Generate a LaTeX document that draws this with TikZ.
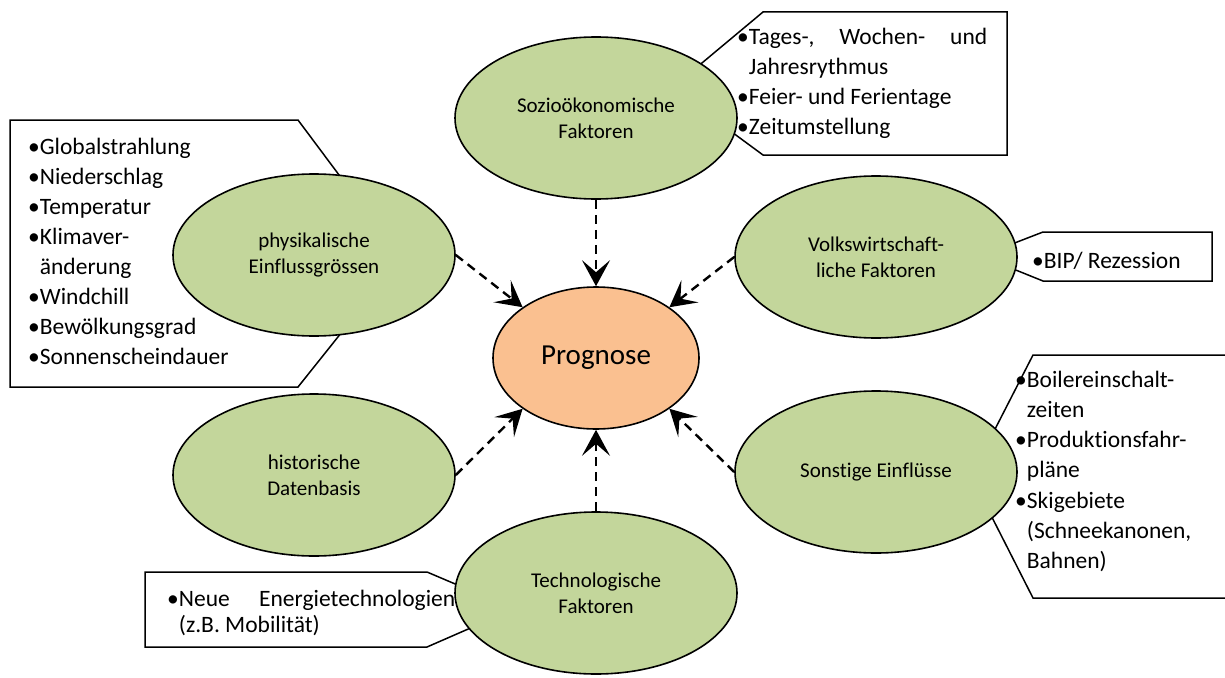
\documentclass[tikz,border=0pt]{standalone}
\usepackage{fontspec}
\setmainfont{Carlito}[Ligatures=NoCommon]
\usepackage{tikz}
\usetikzlibrary{shapes.geometric, arrows.meta}
\definecolor{verde}{HTML}{C3D69B}
\definecolor{naranja}{HTML}{FAC090}
\tikzset{
	factor/.style={ellipse, draw, line width=1.6pt, fill=verde, minimum width=282pt, minimum height=162pt, inner sep=0pt, align=center, font=\fontsize{21}{26}\selectfont}, % Elipses de los factores
	prognose/.style={ellipse, draw, line width=1.6pt, fill=naranja, minimum width=206pt, minimum height=142pt, inner sep=0pt, font=\fontsize{29}{34}\selectfont}, % Elipse central
	lista/.style={anchor=base west, inner sep=0pt, align=flush left, font=\fontsize{23.5}{30}\selectfont}, % Texto de las cajas
	caja/.style={draw, line width=1.5pt, fill=white}, % Contorno de las cajas
	flecha/.style={-{Stealth[length=26pt, width=28pt, inset=12pt]}, line width=2.4pt, dash pattern=on 9pt off 6pt} % Flechas discontinuas
}
\frenchspacing
\newcommand{\pv}{\textbullet}
\newcommand{\sangria}{\phantom{\textbullet}}

\begin{document}
\begin{tikzpicture}[x=1pt, y=-1pt]
	\useasboundingbox (0,0) rectangle (1225,677);
	
	\draw[caja] (763,12) -- (1007,12) -- (1007,155) -- (763,155) -- (672,88) -- cycle;
	\draw[caja] (10,120) -- (298,120) -- (401,258) -- (298,387) -- (10,387) -- cycle;
	\draw[caja] (1043,232) -- (1212,232) -- (1212,281) -- (1043,281) -- (981,256) -- cycle;
	\draw[caja] (1033,355) -- (1230,355) -- (1230,598) -- (1033,598) -- (971,476) -- cycle;
	\draw[caja] (145,572) -- (427,572) -- (514,609) -- (427,647) -- (145,647) -- cycle;
	
	\node[lista, text width=250pt] (sozioLista) at (737,45) {\pv Tages-,\hfill Wochen-\hfill und\\\sangria Jahresrythmus\\\pv Feier- und Ferientage\\\pv Zeitumstellung};
	\node[lista, text width=260pt] (physLista) at (28,154) {\pv Globalstrahlung\\\pv Niederschlag\\\pv Temperatur\\\pv Klimaver-\\\sangria änderung\\\pv Windchill\\\pv Bewölkungsgrad\\\pv Sonnenscheindauer};
	\node[lista, text width=170pt] (volksLista) at (1032,268) {\pv BIP/ Rezession};
	\node[lista, text width=200pt, font=\fontsize{23.5}{30.3}\selectfont] (sonstLista) at (1015,387) {\pv Boilereinschalt-\\\sangria zeiten\\\pv Produktionsfahr-\\\sangria pläne\\\pv Skigebiete\\\sangria (Schneekanonen,\\\sangria Bahnen)};
	\node[lista, text width=288pt, font=\fontsize{23.5}{26}\selectfont] (techLista) at (167,606) {\pv Neue\hfill Energietechnologien\\\sangria (z.B. Mobilität)};
	
	\node[factor] (sozio) at (596,118) {Sozioökonomische\\Faktoren};
	\node[factor] (phys) at (314,255) {physikalische\\Einflussgrössen};
	\node[factor] (volks) at (876,257) {Volkswirtschaft-\\liche Faktoren};
	\node[factor] (hist) at (314,475) {historische\\Datenbasis};
	\node[factor] (sonst) at (876,472) {Sonstige Einflüsse};
	\node[factor] (tech) at (596,593) {Technologische\\Faktoren};
	\node[prognose] (prog) at (596,358) {Prognose};
	
	\draw	(sozio.south) edge[flecha] (prog.north)
			(phys.east) edge[flecha] (prog.north west)
			(volks.west) edge[flecha] (prog.north east)
			(hist.east) edge[flecha] (prog.south west)
			(sonst.west) edge[flecha] (prog.south east)
			(tech.north) edge[flecha] (prog.south);
\end{tikzpicture}
\end{document}
